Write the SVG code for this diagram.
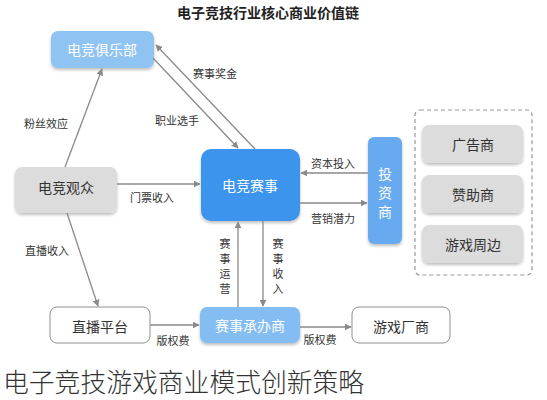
<svg xmlns="http://www.w3.org/2000/svg" width="547" height="400" viewBox="0 0 547 400">
<style>
text{font-family:"Noto Sans CJK SC","Noto Sans",sans-serif;}
.title{font-size:14px;font-weight:700;fill:#222;text-anchor:middle;}
.nt{font-size:14px;text-anchor:middle;dominant-baseline:central;}
.w{fill:#ffffff;}
.d{fill:#333333;}
.lbl{font-size:11px;fill:#333;text-anchor:middle;dominant-baseline:central;}
.cap{font-size:25.8px;font-weight:300;fill:#333;}
.conn line{stroke:#8a8a8a;stroke-width:1.3;marker-end:url(#ah);}
.gray{fill:#dcdcdc;}
.white{fill:#fff;stroke:#8f8f8f;stroke-width:1;}
</style>
<defs>
<marker id="ah" viewBox="0 0 10 10" refX="9" refY="5" markerWidth="7" markerHeight="7" markerUnits="userSpaceOnUse" orient="auto">
<path d="M0,0 L10,5 L0,10 z" fill="#8a8a8a"/>
</marker>
<filter id="sh" x="-10%" y="-10%" width="125%" height="135%">
<feDropShadow dx="0" dy="2" stdDeviation="1.5" flood-color="#000" flood-opacity="0.25"/>
</filter>
</defs>
<rect width="547" height="400" fill="#fff"/>
<text class="title" x="268" y="18">电子竞技行业核心商业价值链</text>

<g id="club"><rect x="51" y="31" width="103" height="37" rx="7" fill="#8fc3f2" filter="url(#sh)"/><text class="nt w" x="102" y="49">电竞俱乐部</text></g>
<g id="audience"><rect x="15" y="167" width="102" height="46" rx="7" class="gray" filter="url(#sh)"/><text class="nt d" x="66" y="187">电竞观众</text></g>
<g id="event"><rect x="201" y="149" width="99" height="72" rx="10" fill="#3d94ec" filter="url(#sh)"/><text class="nt w" x="250" y="185">电竞赛事</text></g>
<g id="investor"><rect x="368" y="137" width="34" height="107" rx="6" fill="#67aaf0" filter="url(#sh)"/>
<text class="nt w" x="385" y="173">投</text><text class="nt w" x="385" y="192">资</text><text class="nt w" x="385" y="211">商</text></g>
<g id="group"><rect x="415" y="110" width="117" height="165" rx="5" fill="none" stroke="#999" stroke-width="1.2" stroke-dasharray="4,3"/></g>
<g id="ad"><rect x="422" y="125" width="101" height="38" rx="7" class="gray" filter="url(#sh)"/><text class="nt d" x="473" y="144">广告商</text></g>
<g id="sponsor"><rect x="422" y="175" width="101" height="38" rx="7" class="gray" filter="url(#sh)"/><text class="nt d" x="473" y="194">赞助商</text></g>
<g id="merch"><rect x="422" y="225" width="101" height="38" rx="7" class="gray" filter="url(#sh)"/><text class="nt d" x="473" y="244">游戏周边</text></g>
<g id="live"><rect x="50" y="307" width="100" height="36" rx="7" class="white"/><text class="nt d" x="100" y="326">直播平台</text></g>
<g id="organizer"><rect x="200" y="307" width="100" height="36" rx="7" fill="#84bdf2" filter="url(#sh)"/><text class="nt w" x="250" y="325">赛事承办商</text></g>
<g id="dev"><rect x="352" y="307" width="98" height="36" rx="7" class="white"/><text class="nt d" x="401" y="326">游戏厂商</text></g>

<g id="connectors" class="conn">
<line x1="65" y1="167" x2="102" y2="69"/>
<line x1="255" y1="149" x2="156" y2="45"/>
<line x1="153" y1="58" x2="238" y2="148"/>
<line x1="117" y1="184" x2="200" y2="184"/>
<line x1="368" y1="173" x2="301" y2="173"/>
<line x1="300" y1="203" x2="367" y2="203"/>
<line x1="238" y1="307" x2="238" y2="222"/>
<line x1="263" y1="221" x2="263" y2="306"/>
<line x1="67" y1="213" x2="98" y2="306"/>
<line x1="150" y1="325" x2="199" y2="325"/>
<line x1="300" y1="327" x2="351" y2="327"/>
</g>

<g id="labels">
<text class="lbl" x="46" y="123">粉丝效应</text>
<text class="lbl" x="215" y="73">赛事奖金</text>
<text class="lbl" x="177" y="120">职业选手</text>
<text class="lbl" x="152" y="197">门票收入</text>
<text class="lbl" x="333" y="163">资本投入</text>
<text class="lbl" x="333" y="218">营销潜力</text>
<text class="lbl" x="47" y="250">直播收入</text>
<text class="lbl" x="173" y="340">版权费</text>
<text class="lbl" x="320" y="339">版权费</text>
<text class="lbl" x="225" y="243">赛</text><text class="lbl" x="225" y="258">事</text><text class="lbl" x="225" y="273">运</text><text class="lbl" x="225" y="288">营</text>
<text class="lbl" x="278" y="243">赛</text><text class="lbl" x="278" y="258">事</text><text class="lbl" x="278" y="273">收</text><text class="lbl" x="278" y="288">入</text>
</g>

<text class="cap" x="3" y="392">电子竞技游戏商业模式创新策略</text>
</svg>
